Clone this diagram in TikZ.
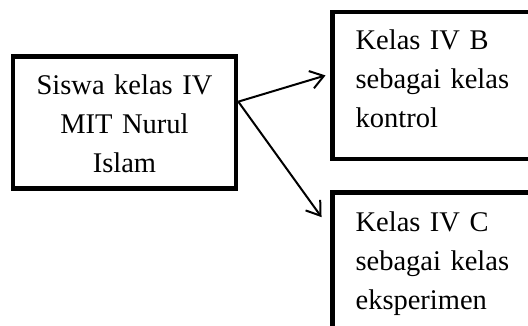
\documentclass[tikz,border=0pt]{standalone}
\usepackage{fontspec}
\setmainfont{Liberation Serif}
\usetikzlibrary{arrows.meta}

\begin{document}
\begin{tikzpicture}[x=1pt, y=-1pt]
	\tikzstyle{box} = [draw, line width=4.6pt, anchor=north west, inner ysep=0pt, font=\fontsize{28.5}{39}\selectfont]
	\tikzstyle{link} = [-{Straight Barb[length=13pt, width=18pt]}, line width=2pt]
	\useasboundingbox (0,0) rectangle (528,325);
	\node[box, text width=190pt, inner xsep=16.5pt, align=center, text height=38.3pt, text depth=93.8pt] (Siswa) at (10.7, 54.3) {Siswa kelas IV\\ MIT Nurul\\ Islam};
	\node[box, text width=220pt, inner xsep=23pt, align=left, text height=37.3pt, text depth=109.7pt] (Kontrol) at (330.3, 9.7) {Kelas IV B\\ sebagai kelas\\ kontrol};
	\node[box, text width=220pt, inner xsep=23pt, align=left, text height=38.7pt, text depth=120pt] (Eksperimen) at (330.3, 190.3) {Kelas IV C\\ sebagai kelas\\ eksperimen};
	\draw [link, shorten >=5pt] ([yshift=21pt]Siswa.east)--([yshift=11.5pt]Kontrol.west);
	\draw [link, shorten >=15pt] ([yshift=21pt]Siswa.east)--([yshift=-39pt]Eksperimen.north west);
\end{tikzpicture}
\end{document}
